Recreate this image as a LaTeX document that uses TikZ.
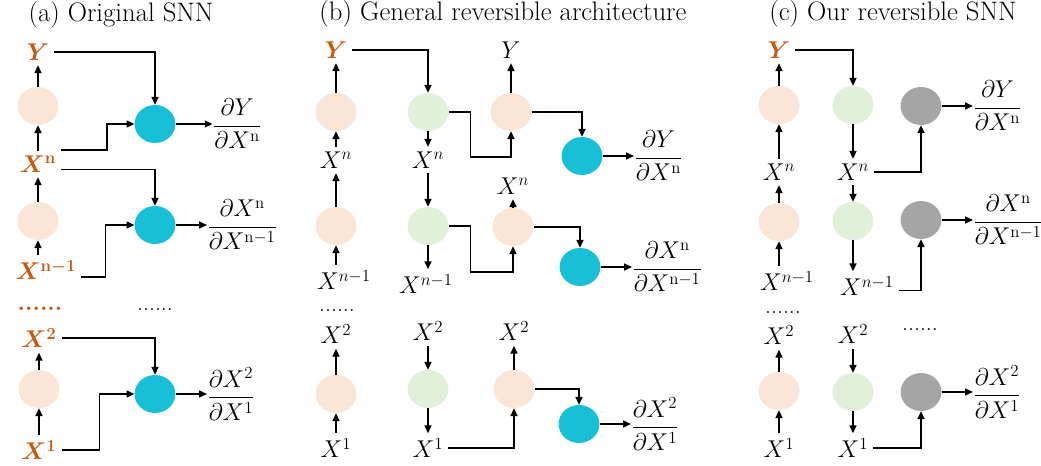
\documentclass[tikz,border=0pt]{standalone}
\usepackage{amsmath,amssymb}
\usetikzlibrary{arrows.meta,positioning,shapes.geometric}
\definecolor{pinkfill}{HTML}{FBE5D6}
\definecolor{greenfill}{HTML}{E2F0D9}
\definecolor{cyanfill}{HTML}{17BFD7}
\definecolor{grayfill}{HTML}{A5A5A5}
\definecolor{orangetext}{HTML}{C55A11}
\begin{document}
\begin{tikzpicture}[
  x=0.025cm, y=-0.025cm,
  node distance=0.78cm,
  every node/.style={font=\fontsize{17}{20}\selectfont},
  title/.style={font=\fontsize{19}{22}\selectfont},
  neuron/.style={ellipse, inner sep=0, minimum width=1.02cm, minimum height=0.95cm},
  pinkc/.style={neuron, fill=pinkfill},
  greenc/.style={neuron, fill=greenfill},
  cyanc/.style={neuron, fill=cyanfill},
  grayc/.style={neuron, fill=grayfill},
  olabel/.style={text=orangetext, font=\fontsize{17}{20}\selectfont\boldmath},
  dots/.style={inner sep=0},
  frac/.style={inner sep=0},
  arrow/.style={-{Triangle[length=5.5pt,width=5pt]}, thick}
]
\useasboundingbox (0,0) rectangle (1041,466);

\node[title] (ta) at (121,15) {(a) Original SNN};
\node[olabel] (ya) at (38,52) {$Y$};
\node[pinkc] (pa1) at (38,106) {};
\node[olabel] (xna) at (38,164) {$X^{\mathrm{n}}$};
\node[pinkc] (pa2) at (38,221) {};
\node[olabel] (xn1a) at (46,270) {$X^{\mathrm{n}-1}$};
\node[olabel, dots, font=\fontsize{17}{20}\selectfont\bfseries] (dota) at (40,309) {......};
\node[olabel] (x2a) at (39,338) {$X^{2}$};
\node[pinkc] (pa3) at (39,389) {};
\node[olabel] (x1a) at (39,450) {$X^{1}$};
\node[cyanc] (ca1) at (155,124) {};
\node[cyanc] (ca2) at (155,225) {};
\node[dots] (dota2) at (155,310) {......};
\node[cyanc] (ca3) at (155,394) {};
\node[frac, right=0.92cm of ca1] (fa1) {$\dfrac{\partial Y}{\partial X^{\mathrm{n}}}$};
\node[frac, right=of ca2] (fa2) {$\dfrac{\partial X^{\mathrm{n}}}{\partial X^{\mathrm{n}-1}}$};
\node[frac, right=of ca3] (fa3) {$\dfrac{\partial X^{2}}{\partial X^{1}}$};
\draw[arrow] (pa1) -- (ya);
\draw[arrow] (xna) -- (pa1);
\draw[arrow] (pa2) -- (xna);
\draw[arrow] (xn1a.north -| pa2) -- (pa2);
\draw[arrow] (pa3) -- (x2a);
\draw[arrow] (x1a) -- (pa3);
\draw[arrow] (ya.east) -| (ca1.north);
\draw[arrow] ([yshift=10pt]xna.east) -- ++(46,0) |- (ca1.west);
\draw[arrow] ([yshift=-4pt]xna.east) -| (ca2.north);
\draw[arrow] ([yshift=-5pt]xn1a.east) -- ++(24,0) |- (ca2.west);
\draw[arrow] (x2a.east) -| (ca3.north);
\draw[arrow] (x1a.east) -- ++(38,0) |- (ca3.west);
\draw[arrow] (ca1) -- (fa1);
\draw[arrow] (ca2) -- (fa2);
\draw[arrow] (ca3) -- (fa3);

\node[title] (tb) at (503,14) {(b) General reversible architecture};
\node[olabel] (yb) at (336,50) {$Y$};
\node[pinkc] (pb1) at (336,112) {};
\node (xnb1) at (336,160) {$X^{n}$};
\node[pinkc] (pb2) at (336,226) {};
\node (xn1b1) at (344,280) {$X^{n-1}$};
\node[dots] (dotb) at (337,311) {......};
\node (x2b1) at (336,334) {$X^{2}$};
\node[pinkc] (pb3) at (336,394) {};
\node (x1b1) at (336,448) {$X^{1}$};
\node[greenc] (gb1) at (428,112) {};
\node (xnb2) at (428,160) {$X^{n}$};
\node[greenc] (gb2) at (428,226) {};
\node (xn1b2) at (426,284) {$X^{n-1}$};
\node (x2b2) at (428,331) {$X^{2}$};
\node[greenc] (gb3) at (428,389) {};
\node (x1b2) at (428,448) {$X^{1}$};
\node[pinkc] (rb1) at (511,112) {};
\node (yb3) at (511,50) {$Y$};
\node[pinkc] (rb2) at (513,227) {};
\node (xnb3) at (513,186) {$X^{n}$};
\node[pinkc] (rb3) at (514,389) {};
\node (x2b3) at (514,331) {$X^{2}$};
\node[cyanc] (cb1) at (582,156) {};
\node[cyanc] (cb2) at (580,267) {};
\node[cyanc] (cb3) at (579,424) {};
\node[frac, right=of cb1] (fb1) {$\dfrac{\partial Y}{\partial X^{\mathrm{n}}}$};
\node[frac, right=of cb2] (fb2) {$\dfrac{\partial X^{\mathrm{n}}}{\partial X^{\mathrm{n}-1}}$};
\node[frac, right=of cb3] (fb3) {$\dfrac{\partial X^{2}}{\partial X^{1}}$};
\draw[arrow] (pb1) -- (yb);
\draw[arrow] (xnb1) -- (pb1);
\draw[arrow] (pb2) -- (xnb1);
\draw[arrow] (xn1b1.north -| pb2) -- (pb2);
\draw[arrow] (pb3) -- (x2b1);
\draw[arrow] (x1b1) -- (pb3);
\draw[arrow] (yb.east) -| (gb1.north);
\draw[arrow] (gb1) -- (xnb2);
\draw[arrow] (xnb2) -- (gb2);
\draw[arrow] (gb2) -- (xn1b2.north -| gb2);
\draw[arrow] (x2b2) -- (gb3);
\draw[arrow] (gb3) -- (x1b2);
\draw[arrow] (rb1) -- (yb3);
\draw[arrow] (rb2) -- (xnb3);
\draw[arrow] (rb3) -- (x2b3);
\draw[arrow] (gb1.east) -- ++(22,0) -- ++(0,45) -| (rb1.south);
\draw[arrow] (gb2.east) -- ++(22,0) -- ++(0,46) -| (rb2.south);
\draw[arrow] (x1b2.east) -| (rb3.south);
\draw[arrow] (rb1.east) -| (cb1.north);
\draw[arrow] (rb2.east) -| (cb2.north);
\draw[arrow] (rb3.east) -| (cb3.north);
\draw[arrow] (cb1) -- (fb1);
\draw[arrow] (cb2) -- (fb2);
\draw[arrow] (cb3) -- (fb3);

\node[title] (tc) at (893,14) {(c) Our reversible SNN};
\node[olabel] (yc) at (779,50) {$Y$};
\node[pinkc] (pc1) at (779,105) {};
\node (xnc1) at (779,172) {$X^{n}$};
\node[pinkc] (pc2) at (779,222) {};
\node (xn1c1) at (787,281) {$X^{n-1}$};
\node[dots] (dotc) at (783,313) {......};
\node (x2c1) at (779,335) {$X^{2}$};
\node[pinkc] (pc3) at (779,391) {};
\node (x1c1) at (779,448) {$X^{1}$};
\node[greenc] (gc1) at (853,105) {};
\node (xnc2) at (853,172) {$X^{n}$};
\node[greenc] (gc2) at (853,221) {};
\node (xn1c2) at (867,286) {$X^{n-1}$};
\node (x2c2) at (853,334) {$X^{2}$};
\node[greenc] (gc3) at (853,392) {};
\node (x1c2) at (853,448) {$X^{1}$};
\node[grayc] (kc1) at (921,106) {};
\node[grayc] (kc2) at (921,220) {};
\node[dots] (dotc2) at (920,330) {......};
\node[grayc] (kc3) at (921,392) {};
\node[frac, right=of kc1] (fc1) {$\dfrac{\partial Y}{\partial X^{\mathrm{n}}}$};
\node[frac, right=of kc2] (fc2) {$\dfrac{\partial X^{\mathrm{n}}}{\partial X^{\mathrm{n}-1}}$};
\node[frac, right=of kc3] (fc3) {$\dfrac{\partial X^{2}}{\partial X^{1}}$};
\draw[arrow] (pc1) -- (yc);
\draw[arrow] (xnc1) -- (pc1);
\draw[arrow] (pc2) -- (xnc1);
\draw[arrow] (xn1c1.north -| pc2) -- (pc2);
\draw[arrow] (pc3) -- (x2c1);
\draw[arrow] (x1c1) -- (pc3);
\draw[arrow] (yc.east) -| (gc1.north);
\draw[arrow] (gc1) -- (xnc2);
\draw[arrow] (xnc2) -- (gc2);
\draw[arrow] (gc2) -- (xn1c2.north -| gc2);
\draw[arrow] (x2c2) -- (gc3);
\draw[arrow] (gc3) -- (x1c2);
\draw[arrow] (xnc2.east) -| (kc1.south);
\draw[arrow] ([yshift=-3pt]xn1c2.east) -| (kc2.south);
\draw[arrow] (x1c2.east) -| (kc3.south);
\draw[arrow] (kc1) -- (fc1);
\draw[arrow] (kc2) -- (fc2);
\draw[arrow] (kc3) -- (fc3);
\end{tikzpicture}
\end{document}
